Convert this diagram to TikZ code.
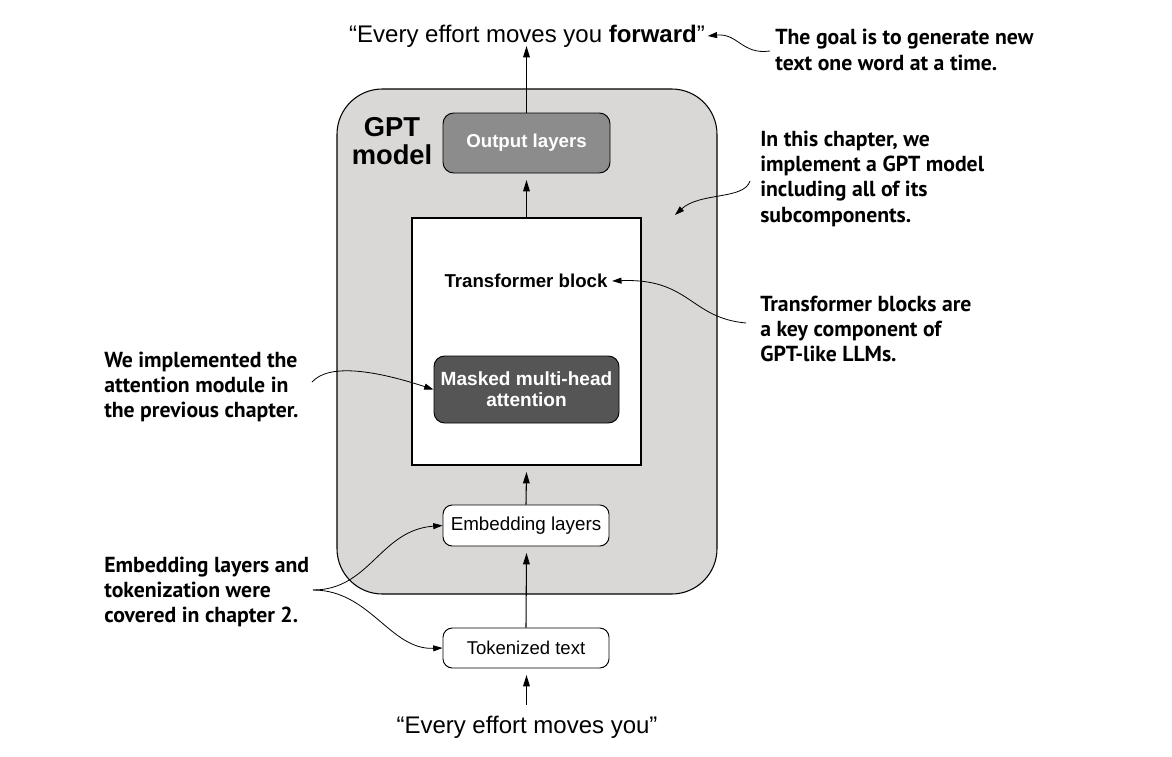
\documentclass[tikz,border=0pt]{standalone}
\usepackage{fontspec}
\setmainfont{Liberation Sans}
\newfontfamily\annfont{PT Sans}
\usetikzlibrary{arrows.meta}
\definecolor{gptgray}{HTML}{D9D8D7}
\definecolor{outgray}{HTML}{8C8C8C}
\definecolor{attgray}{HTML}{555555}
\tikzset{
  arr/.style={draw=black, line width=0.8pt, -{Triangle[length=8.5pt,width=5pt]}},
  ann/.style={draw=black, line width=0.6pt, -{Triangle[length=7pt,width=4.5pt]}},
  annot/.style={font=\annfont\bfseries\fontsize{16.3}{19}\selectfont, align=left, inner sep=0pt, anchor=west},
  whitebox/.style={draw=black, line width=0.7pt, fill=white, rounded corners=7pt, font=\fontsize{14.1}{16}\selectfont},
  darkbox/.style={draw=black, line width=0.7pt, rounded corners=8pt, text=white, font=\bfseries\fontsize{14.3}{16}\selectfont, align=center},
  quote/.style={font=\fontsize{18}{21}\selectfont, inner sep=2pt}
}
\begin{document}
\begin{tikzpicture}[x=0.75pt,y=-0.75pt]
\useasboundingbox (0,0) rectangle (1172,757);
% GPT model container
\node[draw=black, line width=0.8pt, fill=gptgray, rounded corners=34pt, minimum width=285pt, minimum height=378.75pt] (gpt) at (527,341.5) {};
\node[font=\bfseries\fontsize{20.5}{20.5}\selectfont, align=center, inner sep=0pt] (gptlbl) at (392,141) {GPT\\model};
% boxes
\node[darkbox, fill=outgray, minimum width=125.25pt, minimum height=45pt, font=\bfseries\fontsize{14}{16}\selectfont] (outl) at (526.5,143) {Output layers};
\node[draw=black, line width=0.8pt, fill=white, minimum width=171.75pt, minimum height=185.25pt] (tb) at (526.5,341.5) {};
\node[font=\bfseries\fontsize{14}{16}\selectfont] (tbl) at (526,281) {Transformer block};
\node[darkbox, fill=attgray, minimum width=138.75pt, minimum height=50.25pt] (att) at (526.5,389.5) {Masked multi-head\\attention};
\node[whitebox, minimum width=124.5pt, minimum height=30.75pt] (emb) at (526,525.5) {Embedding layers};
\node[whitebox, minimum width=124.5pt, minimum height=30pt, font=\fontsize{13.9}{16}\selectfont] (tok) at (526,648) {Tokenized text};
% texts
\node[quote] (topt) at (527,36) {``Every effort moves you \textbf{forward}''};
\node[quote] (bott) at (527,727) {``Every effort moves you''};
% main arrows
\draw[arr] (outl.north) -- (526.5,46);
\draw[arr] (tb.north) -- (526.5,180);
\draw[arr] (emb.north) -- (526.5,472);
\draw[arr] (tok.north) -- (526.5,553);
\draw[arr] (526.5,705) -- (526.5,675);
% annotations
\node[annot] (goal) at (775,50) {The goal is to generate new\\text one word at a time.};
\node[annot] (chap) at (760,178.5) {In this chapter, we\\implement a GPT model\\including all of its\\subcomponents.};
\node[annot] (tbk) at (760,329) {Transformer blocks are\\a key component of\\GPT-like LLMs.};
\node[annot] (attn) at (104,387) {We implemented the\\attention module in\\the previous chapter.};
\node[annot] (embt) at (104,592) {Embedding layers and\\tokenization were\\covered in chapter 2.};
\coordinate (goalS) at (770,51);
\coordinate (chapS) at (750,181);
\coordinate (tbkS) at (746,323);
\coordinate (attS) at (312,382);
\coordinate (embS) at (313,590);
\draw[ann] (goalS) .. controls (742,55) and (738,33) .. (topt.east);
\draw[ann] (chapS) .. controls (744,200) and (700,192) .. (675,215);
\draw[ann] (tbkS) .. controls (690,318) and (690,278) .. (tbl.east);
\draw[ann] (attS) .. controls (330,362) and (380,372) .. (att.west);
\draw[ann] (embS) .. controls (370,590) and (380,530) .. (emb.west);
\draw[ann] (embS) .. controls (370,590) and (390,650) .. (tok.west);
\end{tikzpicture}
\end{document}
